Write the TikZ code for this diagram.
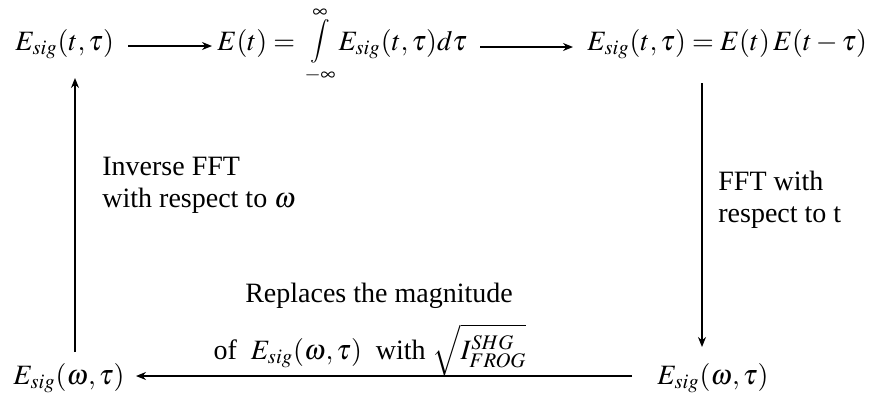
\documentclass[tikz,border=0pt]{standalone}
\usepackage{mathptmx}
\usepackage[no-math]{fontspec}
\setmainfont{Liberation Serif}
\usetikzlibrary{arrows.meta}
\newcommand{\myint}{\mathop{\raisebox{-1.5pt}{$\vcenter{\offinterlineskip\halign{\hfil##\hfil\cr
  $\scriptstyle\infty$\cr\noalign{\kern1pt}
  \scalebox{0.78}{$\displaystyle\int$}\cr\noalign{\kern2.5pt}
  $\scriptstyle-\infty$\cr}}$}}}
\begin{document}
\begin{tikzpicture}[x=0.5pt,y=-0.5pt,
  every node/.style={inner sep=0pt, font=\fontsize{14}{16}\selectfont},
  conn/.style={-{Stealth[length=5pt,width=4pt]}, line width=0.7pt}]
\useasboundingbox[fill=white] (0,0) rectangle (875,392);
% nodes
\node[anchor=base west] (a) at (15,50) {$E_{sig}(t,\tau)$};
\node[anchor=base west] (b) at (217,50) {$E(t)=\,\myint E_{sig}(t,\tau)d\tau$};
\node[anchor=base west] (c) at (587,50) {$E_{sig}(t,\tau)=E(t)\,E(t-\tau)$};
\node[anchor=base west] (d) at (13,384) {$E_{sig}(\omega,\tau)$};
\node[anchor=base west] (e) at (657,384) {$E_{sig}(\omega,\tau)$};
% labels
\node[anchor=base west] (l1) at (102,175) {Inverse FFT};
\node[anchor=base west] (l2) at (102,207) {with respect to $\omega$};
\node[anchor=base west] (r1) at (718,190) {FFT with};
\node[anchor=base west] (r2) at (718,222) {respect to t};
\node[anchor=base] (m1) at (379,302) {Replaces the magnitude};
\node[anchor=base] (m2) at (370,359) {of \ $E_{sig}(\omega,\tau)$ \ with $\sqrt{I_{FROG}^{SHG}}$};
% coordinates for connectors
\coordinate (aR) at (128,46);
\coordinate (bL) at (212,46);
\coordinate (bR) at (480,47);
\coordinate (cL) at (573,47);
\coordinate (cB) at (702,83);
\coordinate (eT) at (702,347);
\coordinate (eL) at (632,376);
\coordinate (dR) at (136,376);
\coordinate (dT) at (75,352);
\coordinate (aB) at (75,78);
\draw[conn] (aR) -- (bL);
\draw[conn] (bR) -- (cL);
\draw[conn] (cB) -- (eT);
\draw[conn] (eL) -- (dR);
\draw[conn] (dT) -- (aB);
\end{tikzpicture}
\end{document}
